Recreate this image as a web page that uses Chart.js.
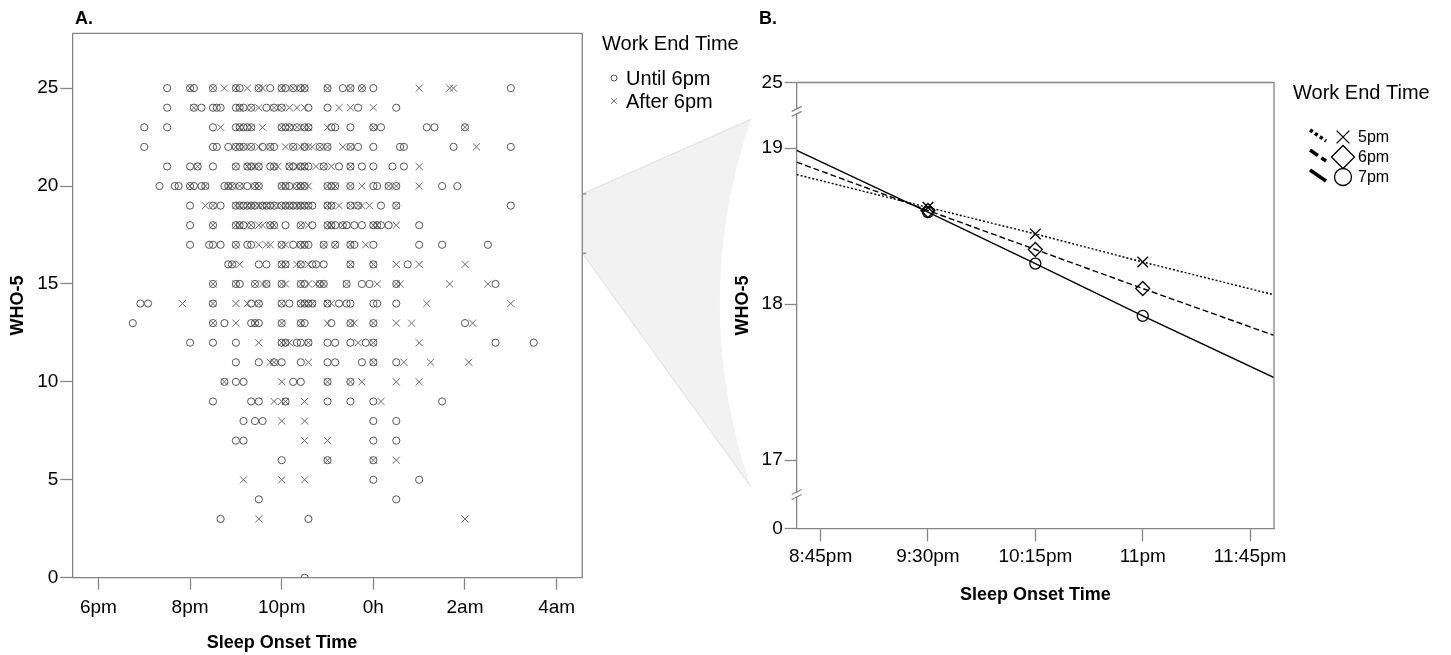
<!DOCTYPE html>
<html>
<head>
<meta charset="utf-8">
<script src="https://cdn.jsdelivr.net/npm/chart.js@4.4.1/dist/chart.umd.min.js"></script>
<style>
    html, body { margin: 0; padding: 0; background: #fff; }
    #stage { position: relative; width: 1451px; height: 655px; overflow: hidden; }
    #stage canvas { position: absolute; top: 0; }
    #funnel { left: 0; }
    #panelA { left: 0; }
    #panelB { left: 725px; }
</style>
</head>
<body>
<div id="stage">
    <canvas id="funnel" width="1451" height="655"></canvas>
    <canvas id="panelA" width="760" height="655"></canvas>
    <canvas id="panelB" width="726" height="655"></canvas>
</div>
<script>
/* =========================================================
   DATA - PANEL A (raw scatter, one string of onset times per WHO-5 score)
========================================================= */
const whoScores = [25, 24, 23, 22, 21, 20, 19, 18, 17, 16, 15, 14, 13, 12, 11, 10, 9, 8, 7, 6, 5, 4, 3, 0];

const until6pmRows = [
    '19:30 20:00 20:05 20:30 21:00 21:05 21:30 21:45 22:00 22:05 22:15 22:25 22:30 23:00 23:20 23:30 23:45 0:00 3:00',
    '19:30 20:05 20:15 20:30 20:35 20:40 21:00 21:05 21:10 21:20 21:40 21:50 22:00 22:35 23:00 23:40 0:30',
    '19:00 19:30 20:30 21:00 21:05 21:10 21:15 21:20 22:00 22:05 22:10 22:20 22:30 22:35 23:05 23:10 23:30 0:00 0:10 1:10 1:20 2:00',
    '19:00 20:30 20:35 20:50 21:00 21:05 21:10 21:20 21:35 21:45 21:50 22:15 22:30 22:50 23:00 23:30 23:40 0:00 0:35 0:40 1:45 3:00',
    '19:30 20:00 20:10 20:30 21:00 21:15 21:20 21:30 21:45 21:50 22:10 22:15 22:25 22:30 22:35 22:55 23:15 23:30 23:45 0:00 0:25 0:40',
    '19:20 19:40 19:45 20:00 20:05 20:15 20:20 20:45 20:50 20:55 21:05 21:15 21:25 21:30 22:00 22:05 22:10 22:20 22:25 22:30 23:00 23:05 23:10 23:30 0:00 0:05 0:20 0:30 1:30 1:50',
    '20:00 20:30 20:40 21:00 21:05 21:10 21:15 21:20 21:25 21:35 21:40 21:45 21:50 22:00 22:05 22:10 22:15 22:20 22:25 22:30 22:35 22:40 23:00 23:05 23:30 23:40 0:10 0:30 3:00',
    '20:00 20:30 21:00 21:05 21:10 21:20 21:45 21:50 22:05 22:25 22:40 23:00 23:05 23:10 23:20 23:25 23:35 23:45 0:00 0:05 0:10 0:20 1:00',
    '20:00 20:25 20:30 20:40 21:00 21:15 21:20 22:00 22:15 22:25 22:30 22:35 22:55 23:10 23:30 23:35 0:00 1:00 1:30 2:30',
    '20:50 20:55 21:30 21:40 22:00 22:05 22:25 22:40 22:45 22:55 23:30 0:00 0:45',
    '20:30 21:00 21:05 21:25 21:40 22:00 22:25 22:30 22:50 22:55 23:25 23:45 23:55 0:30 2:40',
    '18:55 19:05 20:30 21:20 21:30 22:00 22:10 22:25 22:30 22:35 22:40 23:00 23:15 23:25 23:30 0:00 0:05 0:30',
    '18:45 20:30 20:45 21:20 21:25 21:30 22:00 22:25 22:30 23:05 23:30 0:00 2:00',
    '20:00 20:30 21:00 22:00 22:05 22:20 22:25 22:35 23:00 23:10 23:30 23:50 0:00 2:40 3:30',
    '21:00 21:30 21:50 22:00 22:25 23:00 23:10 23:45 0:00 0:30',
    '20:45 21:00 21:10 22:15 22:25 23:00 23:30',
    '20:30 21:20 21:30 22:05 23:00 23:30 0:00 1:30',
    '21:10 21:25 21:35 0:00 0:30',
    '21:00 21:10 0:00 0:30',
    '22:00 23:00 0:00',
    '0:00 1:00',
    '21:30 0:30',
    '20:40 22:35',
    '22:30'
];

const after6pmRows = [
    '20:00 20:30 20:45 21:00 21:15 21:30 21:35 22:00 22:15 22:25 22:30 23:00 23:30 23:45 1:00 1:40 1:45',
    '20:05 21:05 21:20 21:30 21:50 22:00 22:10 22:20 22:30 23:15 23:30 0:00',
    '20:40 21:05 21:20 21:35 22:00 22:10 22:20 22:30 22:35 23:00 0:00 2:00',
    '21:00 21:10 21:20 21:30 21:45 22:05 22:15 22:25 22:30 22:35 22:40 22:50 23:00 23:20 23:30 2:15',
    '20:10 21:00 21:15 21:20 21:25 21:30 21:50 21:55 22:10 22:20 22:25 22:30 22:45 22:55 23:05 23:30 1:00',
    '20:00 20:20 20:50 20:55 21:05 21:25 21:30 22:00 22:05 22:20 22:25 22:30 22:35 23:00 23:10 23:30 23:45 0:20 0:30 1:00',
    '20:20 20:30 21:00 21:05 21:15 21:20 21:25 21:30 21:35 21:40 21:50 22:00 22:05 22:10 22:20 22:25 22:30 22:35 23:00 23:05 23:15 23:30 23:40 23:45 23:55 0:30',
    '20:30 21:00 21:05 21:20 21:30 21:35 21:45 21:50 22:25 22:35 23:00 23:05 23:20 0:00 0:05 0:30',
    '21:00 21:30 21:40 21:45 22:00 22:05 22:25 22:30 22:55 23:10 23:30 23:50',
    '20:55 21:05 22:00 22:05 22:20 22:25 22:35 23:30 0:00 0:30 1:00 2:00',
    '20:30 21:00 21:25 21:35 21:40 22:00 22:05 22:25 22:35 22:45 22:50 22:55 23:25 0:05 0:30 0:35 1:40 2:30',
    '19:50 20:30 21:00 21:15 21:30 22:00 22:25 22:30 22:35 22:40 23:00 23:05 1:10 3:00',
    '20:30 21:00 21:25 22:00 22:25 23:00 23:30 23:35 0:00 0:30 0:50 2:10',
    '21:30 22:00 22:05 22:10 22:35 23:40 0:00 1:00',
    '21:45 21:50 22:35 0:00 0:40 1:15 2:05',
    '20:45 22:00 23:00 23:30 23:45 0:30 1:00',
    '21:50 22:00 22:05 22:30 0:10',
    '22:00 22:30',
    '22:30 23:00',
    '23:00 0:00 0:30',
    '21:10 22:00 22:30',
    '',
    '21:30 2:00',
    ''
];

const aTickTimes = ['18:00', '20:00', '22:00', '0:00', '2:00', '4:00'];
const aTickLabels = ['6pm', '8pm', '10pm', '0h', '2am', '4am'];
const aYTicks = [0, 5, 10, 15, 20, 25];

// WHO-5 range shown enlarged in panel B
const zoomWindow = [16.57, 19.6];

/* =========================================================
   DATA - PANEL B (fitted lines per work end time)
========================================================= */
const lineTimes = ['20:35', '21:30', '22:15', '23:00', '23:55'];
const who5At5pm = [18.83, 18.62, 18.45, 18.27, 18.06];
const who5At6pm = [18.91, 18.60, 18.35, 18.10, 17.80];
const who5At7pm = [18.985, 18.59, 18.26, 17.925, 17.53];

const bTickTimes = ['20:45', '21:30', '22:15', '23:00', '23:45'];
const bTickLabels = ['8:45pm', '9:30pm', '10:15pm', '11pm', '11:45pm'];
const bYTicks = [16.564, 17, 18, 19, 19.42];
const bYLabels = ['0', '17', '18', '19', '25'];
const axisBreaks = [19.235, 16.78];

/* =========================================================
   GLOBAL STYLE
========================================================= */
const FONT = "'Liberation Sans', Arial, Helvetica, sans-serif";
const AXIS = '#858585';
const TICK_SIZE = 19;
const B_LEFT = 725;

Chart.defaults.font.family = FONT;
Chart.defaults.color = '#000';

/* =========================================================
   HELPER
========================================================= */
function toHours(t) {
    const [h, m] = t.split(':').map(Number);
    return (h < 12 ? h + 24 : h) + m / 60;
}

function rowsToPoints(rows) {
    const points = [];
    rows.forEach((row, i) => {
        if (!row) return;
        row.split(' ').forEach(t => points.push({ x: toHours(t), y: whoScores[i] }));
    });
    return points;
}

function linePoints(values) {
    return lineTimes.map((t, i) => ({ x: toHours(t), y: values[i] }));
}

function drawMarker(ctx, style, x, y, r) {
    ctx.beginPath();
    if (style === 'circle') {
        ctx.arc(x, y, r, 0, Math.PI * 2);
    } else if (style === 'crossRot') {
        const d = r * Math.SQRT1_2;
        ctx.moveTo(x - d, y - d); ctx.lineTo(x + d, y + d);
        ctx.moveTo(x + d, y - d); ctx.lineTo(x - d, y + d);
    } else if (style === 'rectRot') {
        ctx.moveTo(x - r, y); ctx.lineTo(x, y - r);
        ctx.lineTo(x + r, y); ctx.lineTo(x, y + r);
        ctx.closePath();
    }
    ctx.stroke();
}

function fixedTicks(values) {
    return scale => { scale.ticks = values.map(v => ({ value: v })); };
}

function frame(ctx, area) {
    ctx.save();
    ctx.strokeStyle = AXIS;
    ctx.lineWidth = 1.3;
    ctx.beginPath();
    ctx.moveTo(area.left, area.top);
    ctx.lineTo(area.right, area.top);
    ctx.lineTo(area.right, area.bottom);
    ctx.stroke();
    ctx.restore();
}

function axisOptions(extra) {
    return Object.assign({
        type: 'linear',
        grid: { drawOnChartArea: false, tickLength: 12, tickColor: AXIS, tickWidth: 1.3 },
        border: { color: AXIS, width: 1.3 },
    }, extra);
}

/* =========================================================
   PANEL A PLUGIN (frame, label, x title, legend)
========================================================= */
const panelAExtras = {
    id: 'panelAExtras',
    afterDraw(chart) {
        const ctx = chart.ctx;
        const area = chart.chartArea;
        frame(ctx, area);

        // marks where panel B zooms in
        ctx.save();
        ctx.strokeStyle = AXIS;
        ctx.lineWidth = 1.3;
        zoomWindow.forEach(v => {
            const y = chart.scales.y.getPixelForValue(v);
            ctx.beginPath();
            ctx.moveTo(area.right, y);
            ctx.lineTo(area.right + 4, y);
            ctx.stroke();
        });

        ctx.fillStyle = '#000';
        ctx.textBaseline = 'middle';
        ctx.font = `bold 18px ${FONT}`;
        ctx.fillText('A.', 75, 19);

        // axis title sits under the 10pm tick in the original
        ctx.textAlign = 'center';
        ctx.fillText('Sleep Onset Time', 282, 643);
        ctx.textAlign = 'left';

        ctx.font = `20px ${FONT}`;
        ctx.fillText('Work End Time', 602, 44);

        const sets = chart.data.datasets;
        [78, 101].forEach((y, i) => {
            ctx.strokeStyle = sets[i].borderColor;
            ctx.lineWidth = 1;
            drawMarker(ctx, sets[i].pointStyle, 614, y, i === 0 ? 3 : 4);
            ctx.fillStyle = '#000';
            ctx.fillText(sets[i].label, 626, y + 1);
        });
        ctx.restore();
    }
};

/* =========================================================
   PANEL B PLUGIN (frame, axis breaks, label, legend)
========================================================= */
const legendMarkerSize = { crossRot: 9, rectRot: 11.5, circle: 8.5 };

const panelBExtras = {
    id: 'panelBExtras',
    afterDraw(chart) {
        const ctx = chart.ctx;
        const area = chart.chartArea;
        frame(ctx, area);

        ctx.save();
        // axis breaks
        axisBreaks.forEach(v => {
            const y = chart.scales.y.getPixelForValue(v);
            const x = area.left;
            ctx.fillStyle = '#fff';
            ctx.fillRect(x - 3, y - 2, 6, 4);
            ctx.strokeStyle = AXIS;
            ctx.lineWidth = 1.2;
            ctx.beginPath();
            ctx.moveTo(x - 5, y); ctx.lineTo(x + 5, y - 5);
            ctx.moveTo(x - 5, y + 5); ctx.lineTo(x + 5, y);
            ctx.stroke();
        });

        ctx.fillStyle = '#000';
        ctx.textBaseline = 'middle';
        ctx.font = `bold 18px ${FONT}`;
        ctx.fillText('B.', 34, 19);

        ctx.font = `20px ${FONT}`;
        ctx.fillText('Work End Time', 568, 93);

        ctx.font = `16px ${FONT}`;
        chart.data.datasets.forEach((ds, i) => {
            const y = 137 + i * 20;
            ctx.strokeStyle = '#000';
            ctx.lineWidth = 3.5;
            ctx.setLineDash(ds.borderDash.length ? [ds.borderDash[0] * 1.6, ds.borderDash[1] * 1.4] : []);
            ctx.beginPath();
            ctx.moveTo(585, y - 7);
            ctx.lineTo(601, y + 4);
            ctx.stroke();
            ctx.setLineDash([]);
            ctx.lineWidth = 1.3;
            drawMarker(ctx, ds.pointStyle, 618, y, legendMarkerSize[ds.pointStyle]);
            ctx.fillStyle = '#000';
            ctx.fillText(ds.label, 633, y + 1);
        });
        ctx.restore();
    }
};

/* =========================================================
   CHART A - SCATTER
========================================================= */
const chartA = new Chart(document.getElementById('panelA'), {
    type: 'scatter',
    data: {
        datasets: [{
            label: 'Until 6pm',
            data: rowsToPoints(until6pmRows),
            pointStyle: 'circle',
            pointRadius: 3.6,
            borderColor: '#555',
            backgroundColor: 'rgba(0,0,0,0)',
            borderWidth: 1,
            clip: 0
        }, {
            label: 'After 6pm',
            data: rowsToPoints(after6pmRows),
            pointStyle: 'crossRot',
            pointRadius: 5,
            borderColor: '#6a6a6a',
            backgroundColor: 'rgba(0,0,0,0)',
            borderWidth: 1,
            clip: 0
        }]
    },
    options: {
        responsive: false,
        animation: false,
        events: [],
        layout: { padding: { left: 0, top: 33.3, right: 177.7, bottom: 0 } },
        plugins: { legend: { display: false }, tooltip: { enabled: false } },
        scales: {
            x: axisOptions({
                min: 17.43,
                max: 28.56,
                afterBuildTicks: fixedTicks(aTickTimes.map(toHours)),
                afterFit: s => { s.height = 77.3; },
                ticks: {
                    callback: (v, i) => aTickLabels[i],
                    font: { size: TICK_SIZE },
                    padding: 7,
                    maxRotation: 0,
                    autoSkip: false
                }
            }),
            y: axisOptions({
                min: 0,
                max: 27.8,
                afterBuildTicks: fixedTicks(aYTicks),
                afterFit: s => { s.width = 72.3; },
                ticks: { font: { size: TICK_SIZE }, padding: 2, autoSkip: false },
                title: {
                    display: true,
                    text: 'WHO-5',
                    font: { size: 18, weight: 'bold' },
                    padding: { top: 7, bottom: 0 }
                }
            })
        }
    },
    plugins: [panelAExtras]
});

/* =========================================================
   CHART B - FITTED LINES
========================================================= */
function lineSet(label, values, dash, style, radius) {
    return {
        label: label,
        data: linePoints(values),
        borderColor: '#000',
        borderWidth: 1.4,
        borderDash: dash,
        pointStyle: style,
        pointRadius: [0, radius, radius, radius, 0],
        pointBorderColor: '#000',
        pointBackgroundColor: 'rgba(0,0,0,0)',
        pointBorderWidth: 1.3,
        tension: 0,
        fill: false,
        clip: 0
    };
}

const chartB = new Chart(document.getElementById('panelB'), {
    type: 'line',
    data: {
        datasets: [
            lineSet('5pm', who5At5pm, [2, 2], 'crossRot', 7.5),
            lineSet('6pm', who5At6pm, [6, 3], 'rectRot', 7),
            lineSet('7pm', who5At7pm, [], 'circle', 5.5)
        ]
    },
    options: {
        responsive: false,
        animation: false,
        events: [],
        layout: { padding: { left: 0, top: 82.5, right: 177, bottom: 0 } },
        plugins: { legend: { display: false }, tooltip: { enabled: false } },
        scales: {
            x: axisOptions({
                min: toHours(lineTimes[0]),
                max: toHours(lineTimes[lineTimes.length - 1]),
                afterBuildTicks: fixedTicks(bTickTimes.map(toHours)),
                afterFit: s => { s.height = 655 - 528.3; },
                grid: { drawOnChartArea: false, tickLength: 13, tickColor: AXIS, tickWidth: 1.3 },
                ticks: {
                    callback: (v, i) => bTickLabels[i],
                    font: { size: TICK_SIZE },
                    padding: 4,
                    maxRotation: 0,
                    autoSkip: false
                },
                title: {
                    display: true,
                    text: 'Sleep Onset Time',
                    font: { size: 18, weight: 'bold' },
                    padding: { top: 0, bottom: 49 }
                }
            }),
            y: axisOptions({
                min: bYTicks[0],
                max: bYTicks[bYTicks.length - 1],
                afterBuildTicks: fixedTicks(bYTicks),
                afterFit: s => { s.width = 796.7 - B_LEFT; },
                grid: { drawOnChartArea: false, tickLength: 12, tickColor: AXIS, tickWidth: 1.3 },
                ticks: {
                    callback: (v, i) => bYLabels[i],
                    font: { size: TICK_SIZE },
                    padding: 2,
                    autoSkip: false
                },
                title: {
                    display: true,
                    text: 'WHO-5',
                    font: { size: 18, weight: 'bold' },
                    padding: { top: 7, bottom: 0 }
                }
            })
        }
    },
    plugins: [panelBExtras]
});

/* =========================================================
   FUNNEL BETWEEN PANELS
========================================================= */
function drawFunnel() {
    const ctx = document.getElementById('funnel').getContext('2d');
    const startX = chartA.chartArea.right;
    const topA = chartA.scales.y.getPixelForValue(zoomWindow[1]);
    const botA = chartA.scales.y.getPixelForValue(zoomWindow[0]);

    const tipX = B_LEFT + chartB.chartArea.left - 46;
    const tipTop = chartB.scales.y.getPixelForValue(axisBreaks[0]) + 8;
    const tipBot = chartB.scales.y.getPixelForValue(axisBreaks[1]) - 8;

    ctx.beginPath();
    ctx.moveTo(startX, topA);
    ctx.lineTo(tipX, tipTop);
    ctx.quadraticCurveTo(tipX - 62, (tipTop + tipBot) / 2, tipX, tipBot);
    ctx.lineTo(startX, botA);
    ctx.closePath();
    ctx.fillStyle = '#f2f2f2';
    ctx.fill();

    ctx.strokeStyle = '#dedede';
    ctx.lineWidth = 1;
    ctx.beginPath();
    ctx.moveTo(startX, topA); ctx.lineTo(tipX, tipTop);
    ctx.moveTo(startX, botA); ctx.lineTo(tipX, tipBot);
    ctx.stroke();
}

drawFunnel();
</script>
</body>
</html>
